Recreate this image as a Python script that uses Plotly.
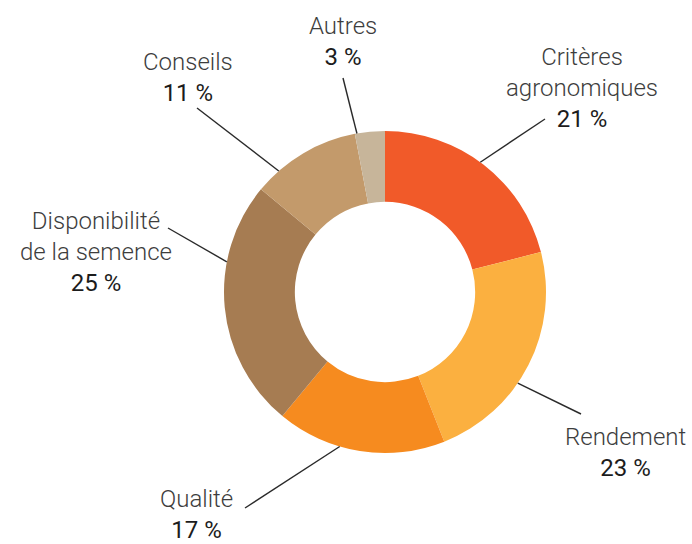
import math
import plotly.graph_objects as go

# ---- data ----
labels = ["Critères agronomiques", "Rendement", "Qualité",
          "Disponibilité de la semence", "Conseils", "Autres"]
label_text = ["Critères<br>agronomiques", "Rendement", "Qualité",
              "Disponibilité<br>de la semence", "Conseils", "Autres"]
values = [21, 23, 17, 25, 11, 3]
colors = ["#F15A29", "#FBB040", "#F68B1F", "#A67C52", "#C39A6B", "#C7B59A"]

# ---- layout (pixels) ----
W, H = 692, 544
CX, CY, R = 385, 292, 161
HOLE = 0.56
# label block centres
label_pos = [(582, 88), (625, 452), (196, 514), (96, 252), (188, 77), (343, 42)]
# leader line outer ends, and where along each slice the line meets the ring
line_end = [(545, 119), (581, 414), (245, 508), (168, 228), (197, 108), (343, 78)]
line_frac = [0.48, 0.59, 0.62, 0.68, 0.23, 0.07]

px = lambda x: x / W
py = lambda y: 1 - y / H

fig = go.Figure(go.Pie(
    labels=labels, values=values, sort=False, direction="clockwise",
    rotation=0, hole=HOLE, textinfo="none", hoverinfo="label+percent",
    marker=dict(colors=colors, line=dict(width=0)),
    domain=dict(x=[px(CX - R), px(CX + R)], y=[py(CY + R), py(CY - R)]),
    showlegend=False,
))

total = sum(values)
cum = 0
annotations, shapes = [], []
for i, v in enumerate(values):
    ang = 2 * math.pi * (cum + line_frac[i] * v) / total
    cum += v
    sx = CX + R * math.sin(ang)
    sy = CY - R * math.cos(ang)
    ex, ey = line_end[i]
    shapes.append(dict(type="line", xref="paper", yref="paper",
                       x0=px(sx), y0=py(sy), x1=px(ex), y1=py(ey),
                       line=dict(color="#2a2a2a", width=1.4)))
    pct = round(100 * v / total)
    txt = (label_text[i] + "<br><span style='font-weight:400;color:#1c1c1c'>"
           + f"{pct} %</span>")
    lx, ly = label_pos[i]
    annotations.append(dict(text=txt, xref="paper", yref="paper",
                            x=px(lx), y=py(ly), xanchor="center", yanchor="middle",
                            showarrow=False, align="center",
                            font=dict(family="Roboto", size=24, color="#3d3d3d",
                                      weight=300)))

fig.update_layout(
    width=W, height=H, margin=dict(l=0, r=0, t=0, b=0),
    paper_bgcolor="white", plot_bgcolor="white",
    annotations=annotations, shapes=shapes,
)
fig.write_html("out.html", config={"displayModeBar": False},
               post_script="document.body.style.margin='0';document.body.style.overflow='hidden';")
